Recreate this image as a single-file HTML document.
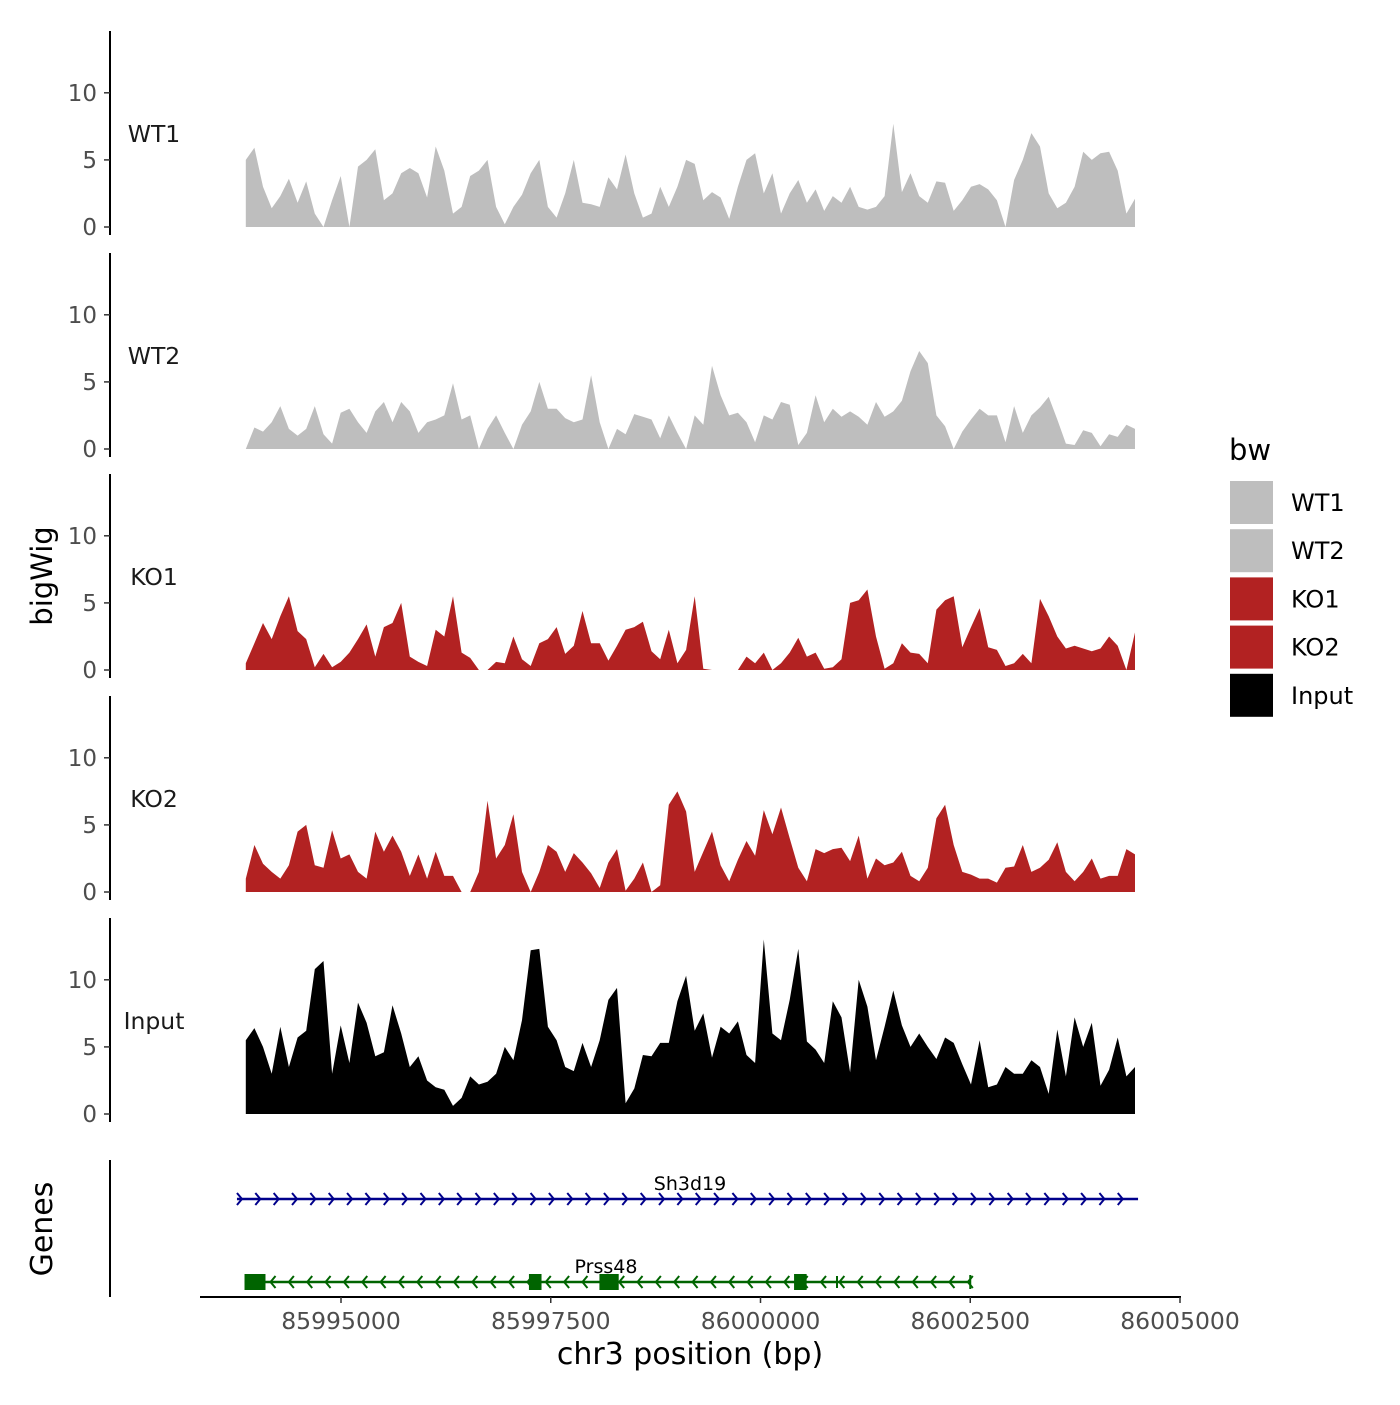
<!DOCTYPE html>
<html><head><meta charset="utf-8"><style>
body{margin:0;background:#fff}
svg text{font-family:"DejaVu Sans","Liberation Sans",sans-serif}
</style></head><body>
<svg id="chart" width="1400" height="1400" viewBox="0 0 1400 1400" xmlns="http://www.w3.org/2000/svg"></svg>
<script>
const startBp = 85993865;
const stepBp = 102.9;
const panelNames = ["WT1","WT2","KO1","KO2","Input"];
const panelColors = ["#bebebe","#bebebe","#b22222","#b22222","#000000"];
const yTicks = [0,5,10];
const xTicks = [85995000,85997500,86000000,86002500,86005000];
const wt1 = [5,5.9,3,1.4,2.3,3.6,1.8,3.4,1.0,0,2,3.8,0,4.5,5,5.8,2,2.5,4,4.4,4,2.2,6,4.2,1,1.5,3.8,4.2,5,1.5,0.2,1.5,2.4,4,5,1.5,0.7,2.5,5,1.8,1.7,1.5,3.7,2.8,5.4,2.5,0.7,1,3,1.5,3,5,4.7,2,2.6,2.2,0.6,3,5,5.5,2.5,4,1,2.5,3.5,1.8,2.8,1.2,2.3,1.8,3,1.5,1.3,1.5,2.3,7.7,2.6,4,2.3,1.8,3.4,3.3,1.2,2,3,3.2,2.8,2,0,3.5,5,7,6,2.5,1.4,1.8,3,5.6,5,5.5,5.6,4.2,1,2.1];
const wt2 = [0,1.6,1.3,2.0,3.2,1.5,1,1.5,3.2,1.1,0.4,2.7,3.0,2.0,1.2,2.8,3.5,2,3.5,2.8,1.2,2,2.2,2.5,4.9,2.2,2.5,0,1.5,2.5,1.2,0,1.8,2.8,5,3,3.0,2.3,2,2.2,5.5,2,0,1.5,1.1,2.6,2.4,2.2,0.8,2.5,1.2,0,2.5,1.8,6.2,4,2.5,2.7,2,0.5,2.5,2.2,3.5,3.3,0.3,1.2,4,2,3,2.4,2.8,2.4,1.8,3.5,2.4,2.8,3.6,5.8,7.3,6.4,2.5,1.7,0,1.3,2.2,3,2.5,2.5,0.5,3.2,1.2,2.5,3.1,3.9,2.2,0.4,0.3,1.4,1.2,0.2,1.1,0.9,1.8,1.5];
const ko1 = [0.5,2,3.5,2.3,4.0,5.5,2.9,2.3,0.2,1.2,0.2,0.6,1.3,2.3,3.4,1.0,3.2,3.5,5.0,1.0,0.6,0.3,3.0,2.5,5.5,1.3,0.9,0,0,0.6,0.5,2.5,0.8,0.3,2,2.3,3.2,1.2,1.8,4.4,2,2,0.7,1.8,3,3.2,3.6,1.4,0.8,3,0.5,1.5,5.5,0.1,0,0,0,0,1.0,0.5,1.3,0,0.5,1.3,2.4,1.0,1.3,0.1,0.2,0.8,5,5.2,6,2.5,0.1,0.5,2.0,1.3,1.2,0.5,4.5,5.2,5.5,1.7,3.2,4.6,1.7,1.5,0.3,0.5,1.2,0.5,5.3,4,2.5,1.6,1.8,1.6,1.4,1.6,2.5,1.8,0,2.8];
const ko2 = [1.0,3.5,2.1,1.5,1.0,2,4.5,5,2,1.8,4.6,2.5,2.8,1.5,1.0,4.5,3,4.2,3,1.2,2.8,1,3,1.2,1.2,0,0,1.5,6.8,2.5,3.5,5.8,1.5,0,1.5,3.5,3,1.5,2.9,2.2,1.4,0.3,2.2,3.2,0.1,1.0,2.2,0,0.5,6.5,7.5,6,1.5,3,4.5,2,0.8,2.4,3.8,2.7,6.1,4.3,6.3,4,1.8,0.8,3.2,2.9,3.2,3.3,2.3,4.2,1,2.5,2,2.2,3,1.2,0.8,1.8,5.5,6.5,3.5,1.5,1.3,1.0,1.0,0.7,1.8,1.9,3.5,1.5,1.8,2.4,3.7,1.5,0.8,1.5,2.5,1.0,1.2,1.2,3.2,2.8];
const input = [5.5,6.4,5,3,6.5,3.5,5.7,6.2,10.8,11.4,3,6.6,3.8,8.3,6.8,4.3,4.6,8.1,6,3.5,4.3,2.5,2,1.8,0.6,1.2,2.8,2.2,2.4,3,5,4,7,12.2,12.3,6.5,5.5,3.5,3.2,5.3,3.5,5.5,8.5,9.4,0.8,1.9,4.4,4.3,5.3,5.3,8.4,10.3,6.2,7.5,4.2,6.5,6,6.9,4.4,3.8,13,6,5.5,8.5,12.3,5.4,4.8,3.8,8.4,7.2,3.1,10,8,4,6.5,9.2,6.6,5,6,5,4.1,5.7,5.3,3.7,2.2,5.5,2,2.2,3.5,3.0,3.0,4,3.5,1.5,6.3,2.8,7.2,5,6.8,2.1,3.3,5.7,2.8,3.5];
const seriesList = [wt1,wt2,ko1,ko2,input];
const geneNames = ["Sh3d19","Prss48"];
const geneStarts = [85993760,85993850];
const geneEnds = [86004500,86002500];
const prssExonStarts = [85993850,85997240,85998080,86000400];
const prssExonEnds = [85994100,85997390,85998310,86000550];

const NS="http://www.w3.org/2000/svg";
const svg=document.getElementById('chart');
function el(tag,attrs,parent){const e=document.createElementNS(NS,tag);for(const k in attrs)e.setAttribute(k,attrs[k]);(parent||svg).appendChild(e);return e;}
const xScale=bp=>341+(bp-85995000)*0.0839;
const baseY=[227,449,670,892,1114];
const unit=13.42;

seriesList.forEach((vals,p)=>{
  const y0=baseY[p];
  const yScale=v=>y0-v*unit;
  const g=el('g',{});
  
  
  let d='M'+xScale(startBp).toFixed(1)+','+y0;
  vals.forEach((v,i)=>{d+=' L'+xScale(startBp+i*stepBp).toFixed(1)+','+yScale(v).toFixed(1);});
  d+=' L'+xScale(startBp+(vals.length-1)*stepBp).toFixed(1)+','+y0+' Z';
  const area=el('path',{d:d,fill:panelColors[p]},g);
  
  
  const ax=el('line',{x1:110,x2:110,y1:y0-196,y2:y0+8,stroke:'#000','stroke-width':2},g);
  
  
  yTicks.forEach(t=>{
    el('line',{x1:104,x2:110,y1:yScale(t),y2:yScale(t),stroke:'#333','stroke-width':1.5},g);
    const tl=el('text',{x:97,y:yScale(t)+8,'text-anchor':'end','font-size':23,fill:'#4d4d4d'},g);
    tl.textContent=t;
    
    
  });
  const lab=el('text',{x:154,y:y0-85,'text-anchor':'middle','font-size':23.5,fill:'#1a1a1a'},g);
  lab.textContent=panelNames[p];
  
  
});

const yt=el('text',{x:52,y:576,'text-anchor':'middle','font-size':29,transform:'rotate(-90 52 576)'});
yt.textContent='bigWig';



const gax=el('line',{x1:110,x2:110,y1:1160,y2:1297,stroke:'#000','stroke-width':2});


const gt=el('text',{x:52,y:1229,'text-anchor':'middle','font-size':30,transform:'rotate(-90 52 1229)'});
gt.textContent='Genes';



const g1=el('g',{});


const s1=xScale(geneStarts[0]),e1=xScale(geneEnds[0]);
el('line',{x1:s1,x2:e1,y1:1199,y2:1199,stroke:'#00008b','stroke-width':2.5},g1);
for(let x=s1+5;x<=e1+1;x+=18.35){el('path',{d:`M${x-5},${1193} L${x},${1199} L${x-5},${1205}`,fill:'none',stroke:'#00008b','stroke-width':2},g1);}
const t1=el('text',{x:690,y:1190,'text-anchor':'middle','font-size':19},g1);
t1.textContent=geneNames[0];

const g2=el('g',{});


const s2=xScale(geneStarts[1]),e2=xScale(geneEnds[1]);
el('line',{x1:s2,x2:e2,y1:1282,y2:1282,stroke:'#006400','stroke-width':2.5},g2);
for(let x=s2+26;x<=e2;x+=18.35){el('path',{d:`M${x+5},${1276} L${x},${1282} L${x+5},${1288}`,fill:'none',stroke:'#006400','stroke-width':2},g2);}
el('line',{x1:e2,x2:e2,y1:1275,y2:1289,stroke:'#006400','stroke-width':2},g2);
el('line',{x1:837,x2:837,y1:1276,y2:1288,stroke:'#006400','stroke-width':2},g2);
prssExonStarts.forEach((s,i)=>{
  const x=xScale(s),w=xScale(prssExonEnds[i])-x;
  const r=el('rect',{x:x,y:1274,width:w,height:16,fill:'#006400'},g2);
  
  
});
const t2=el('text',{x:606,y:1273,'text-anchor':'middle','font-size':19},g2);
t2.textContent=geneNames[1];

const xa=el('line',{x1:200,x2:1181,y1:1297,y2:1297,stroke:'#000','stroke-width':2});


xTicks.forEach(t=>{
  const x=xScale(t);
  el('line',{x1:x,x2:x,y1:1297,y2:1303,stroke:'#333','stroke-width':1.5});
  const tl=el('text',{x:x,y:1329,'text-anchor':'middle','font-size':23.5,fill:'#4d4d4d'});
  tl.textContent=t;
  
  
});
const xt=el('text',{x:690,y:1364,'text-anchor':'middle','font-size':30});
xt.textContent='chr3 position (bp)';



const lg=el('g',{});


const lt=el('text',{x:1229,y:460,'font-size':29},lg);
lt.textContent='bw';
panelNames.forEach((n,i)=>{
  const y=481+i*48.2;
  const r=el('rect',{x:1230,y:y,width:43,height:43,fill:panelColors[i]},lg);
  
  
  const tx=el('text',{x:1291,y:y+30,'font-size':24},lg);
  tx.textContent=n;
  
  
});
</script>
</body></html>
